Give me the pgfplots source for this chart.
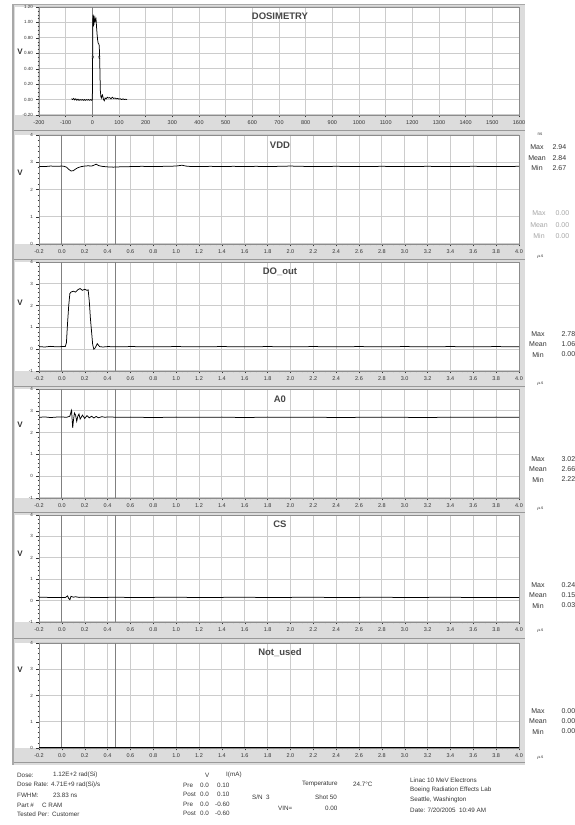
\documentclass[border=0pt]{standalone}
\usepackage{pgfplots}
\pgfplotsset{compat=1.18}
\usepackage{fontspec}
\setmainfont{Liberation Sans}
\definecolor{bandc}{HTML}{DCDCDC}
\definecolor{gridc}{HTML}{CCCCCC}
\definecolor{framec}{HTML}{A8A8A8}
\definecolor{cursorc}{HTML}{808080}
\definecolor{txt}{HTML}{333333}
\pgfplotsset{
  base/.style={scale only axis, width=480pt, anchor=south west,
    axis line style={draw=black!45, line width=0.5pt},
    xmajorgrids, ymajorgrids, major grid style={draw=gridc, line width=1pt},
    tick align=outside, tick style={black!80, line width=0.4pt},
    major tick length=2.5pt, minor tick length=1.4pt,
    xtick pos=bottom, ytick pos=left,
    /pgf/number format/assume math mode=true,
    /pgf/number format/1000 sep={},
    x tick label style={font=\fontsize{5.5}{6}\selectfont, text=txt},
    y tick label style={font=\fontsize{4.5}{5}\selectfont, text=txt},
  },
  lower/.style={base, xmin=-0.2, xmax=4.0,
    xtick={-0.2,0,0.2,0.4,0.6,0.8,1.0,1.2,1.4,1.6,1.8,2.0,2.2,2.4,2.6,2.8,3.0,3.2,3.4,3.6,3.8,4.0},
    minor x tick num=3,
    xticklabel style={/pgf/number format/.cd, fixed, fixed zerofill, precision=1},
    minor y tick num=4,
  },
  trace/.style={black, line width=0.75pt},
  cur/.style={cursorc, line width=1pt},
}
\newcommand{\ttl}[1]{\node[font=\bfseries\fontsize{9.5}{10}\selectfont, text=black!72] at (rel axis cs:0.502,0.91) {#1};}
\begin{document}
\begin{tikzpicture}[x=1pt,y=1pt]
\useasboundingbox (0,0) rectangle (575,825);
% backgrounds
\fill[bandc] (12,60) rectangle (525,821);
\foreach \b/\t in {710/818,581/690,454/563,327/436,203/310,77/182}{
  \fill[white] (15,\b) rectangle (519,\t);
}
\foreach \y in {694,565,438,312,186,62}{
  \draw[black!40, line width=1pt] (12,\y) -- (525,\y);
}
\draw[framec, line width=1.5pt] (13,60) -- (13,821);
\draw[framec, line width=1pt] (12,820.5) -- (525,820.5);

% ---------- DOSIMETRY ----------
\begin{axis}[base, at={(39pt,710pt)}, height=108pt,
  xmin=-200, xmax=1600, ymin=-0.2, ymax=1.2,
  xtick={-200,-100,...,1600}, ytick={-0.2,0,0.2,0.4,0.6,0.8,1.0,1.2},
  minor y tick num=3,
  yticklabel style={/pgf/number format/.cd, fixed, fixed zerofill, precision=2},
  xticklabel style={/pgf/number format/.cd, fixed, precision=0, 1000 sep={}}]
\addplot[cur] coordinates {(0,-0.2) (0,1.2)};
\addplot[trace] coordinates {
(-78,0.01) (-74,0.0) (-70,0.015) (-66,-0.005) (-62,0.01) (-58,-0.01) (-54,0.005) (-50,-0.01) (-46,0.0) (-42,-0.008) (-38,0.0) (-34,-0.01) (-30,0.0) (-26,-0.01) (-22,0.0) (-18,-0.008) (-14,0.0) (-10,-0.01) (-6,0.0) (-2,-0.01) (0,0.0)
(1,0.5) (2,1.05) (3,1.1) (4,0.95) (5,1.08) (6,0.97) (7,1.05) (8,1.0) (10,1.06) (12,1.02) (14,1.04) (16,0.93) (18,0.84) (20,0.77) (22,0.73) (24,0.72) (26,0.70) (28,0.45) (30,0.12) (32,0.04) (34,0.02) (36,0.05) (38,0.06) (40,0.03) (42,0.0) (45,-0.015) (48,0.02) (52,0.01) (56,0.03) (60,0.02) (65,0.025) (70,0.01) (75,0.03) (80,0.015) (85,0.02) (90,0.01) (95,0.015) (100,0.005) (105,0.01) (110,0.0) (115,0.01) (120,0.0) (125,0.005) (130,0.0)};
\addplot[only marks, mark=x, mark size=1.6pt, black!70] coordinates {(2,0.55) (26,0.55)};
\ttl{DOSIMETRY}
\end{axis}

% ---------- VDD ----------
\begin{axis}[lower, at={(39pt,581pt)}, height=109pt, ymin=0, ymax=4, ytick={0,1,2,3,4}]
\addplot[cur] coordinates {(0,0) (0,4)};
\addplot[cur] coordinates {(0.47,0) (0.47,4)};
\addplot[trace] coordinates {
(-0.2,2.85) (-0.15,2.84) (-0.1,2.86) (-0.05,2.85) (0,2.86) (0.02,2.85) (0.04,2.82) (0.06,2.74) (0.08,2.68) (0.1,2.69) (0.12,2.75) (0.14,2.80) (0.17,2.84) (0.2,2.86) (0.23,2.87) (0.26,2.86) (0.28,2.89) (0.3,2.93) (0.32,2.88) (0.35,2.85) (0.4,2.83) (0.45,2.82) (0.5,2.83) (0.6,2.84) (0.7,2.85) (0.8,2.84) (0.9,2.85) (1.0,2.86) (1.05,2.89) (1.1,2.85) (1.2,2.84) (1.3,2.85) (1.4,2.84) (1.5,2.85) (1.6,2.84) (1.7,2.85) (1.8,2.84) (1.9,2.85) (2.0,2.86) (2.2,2.84) (2.4,2.85) (2.6,2.84) (2.8,2.85) (3.0,2.84) (3.2,2.85) (3.4,2.84) (3.6,2.85) (3.8,2.84) (4.0,2.85)};
\ttl{VDD}
\end{axis}

% ---------- DO_out ----------
\begin{axis}[lower, at={(39pt,454pt)}, height=109pt, ymin=-1, ymax=4, ytick={-1,0,1,2,3,4}]
\addplot[cur] coordinates {(0,-1) (0,4)};
\addplot[cur] coordinates {(0.47,-1) (0.47,4)};
\addplot[trace] coordinates {
(-0.2,0.12) (-0.15,0.1) (-0.1,0.13) (-0.05,0.11) (0,0.12) (0.03,0.12) (0.04,0.3) (0.05,1.2) (0.06,2.0) (0.07,2.55) (0.08,2.62) (0.1,2.66) (0.12,2.62) (0.14,2.73) (0.16,2.78) (0.18,2.70) (0.2,2.75) (0.22,2.70) (0.23,2.72) (0.24,2.2) (0.25,1.4) (0.26,0.8) (0.27,0.2) (0.28,0.0) (0.29,0.05) (0.31,0.25) (0.33,0.12) (0.36,0.1) (0.4,0.12) (0.5,0.11) (0.6,0.12) (0.8,0.11) (1.0,0.12) (1.2,0.11) (1.4,0.12) (1.6,0.11) (1.8,0.12) (2.0,0.11) (2.2,0.12) (2.4,0.11) (2.6,0.12) (2.8,0.11) (3.0,0.12) (3.2,0.11) (3.4,0.12) (3.6,0.11) (3.8,0.12) (4.0,0.11)};
\ttl{DO\_out}
\end{axis}

% ---------- A0 ----------
\begin{axis}[lower, at={(39pt,327pt)}, height=109pt, ymin=-1, ymax=4, ytick={-1,0,1,2,3,4}]
\addplot[cur] coordinates {(0,-1) (0,4)};
\addplot[cur] coordinates {(0.47,-1) (0.47,4)};
\addplot[trace] coordinates {
(-0.2,2.70) (-0.15,2.72) (-0.1,2.69) (-0.05,2.71) (0,2.72) (0.04,2.70) (0.07,2.75) (0.08,2.95) (0.085,3.02) (0.09,2.6) (0.095,2.22) (0.1,2.5) (0.11,2.9) (0.12,2.8) (0.13,2.52) (0.14,2.75) (0.15,2.85) (0.16,2.62) (0.18,2.8) (0.2,2.65) (0.22,2.78) (0.24,2.68) (0.26,2.75) (0.28,2.67) (0.3,2.74) (0.32,2.68) (0.35,2.73) (0.38,2.70) (0.4,2.72) (0.5,2.70) (0.6,2.71) (0.8,2.69) (1.0,2.71) (1.2,2.70) (1.4,2.71) (1.6,2.69) (1.8,2.71) (2.0,2.70) (2.2,2.71) (2.4,2.69) (2.6,2.70) (2.8,2.71) (3.0,2.70) (3.2,2.69) (3.4,2.71) (3.6,2.70) (3.8,2.71) (4.0,2.70)};
\ttl{A0}
\end{axis}

% ---------- CS ----------
\begin{axis}[lower, at={(39pt,203pt)}, height=107pt, ymin=-1, ymax=4, ytick={-1,0,1,2,3,4}]
\addplot[cur] coordinates {(0,-1) (0,4)};
\addplot[cur] coordinates {(0.47,-1) (0.47,4)};
\addplot[trace] coordinates {
(-0.2,0.15) (-0.15,0.16) (-0.1,0.14) (-0.05,0.15) (0,0.15) (0.03,0.14) (0.05,0.22) (0.06,0.10) (0.07,0.04) (0.08,0.2) (0.1,0.16) (0.12,0.18) (0.15,0.15) (0.2,0.16) (0.3,0.14) (0.4,0.15) (0.5,0.16) (0.6,0.14) (0.8,0.15) (1.0,0.16) (1.2,0.14) (1.4,0.15) (1.6,0.16) (1.8,0.14) (2.0,0.15) (2.2,0.16) (2.4,0.14) (2.6,0.15) (2.8,0.16) (3.0,0.14) (3.2,0.15) (3.4,0.16) (3.6,0.14) (3.8,0.15) (4.0,0.15)};
\ttl{CS}
\end{axis}

% ---------- Not_used ----------
\begin{axis}[lower, at={(39pt,77pt)}, height=105pt, ymin=0, ymax=4, ytick={0,1,2,3,4}]
\addplot[cur] coordinates {(0,0) (0,4)};
\addplot[cur] coordinates {(0.47,0) (0.47,4)};
\addplot[black, line width=1.2pt] coordinates {(-0.2,0) (4.0,0)};
\ttl{Not\_used}
\end{axis}

% ---------- V labels ----------
\foreach \y in {52,173,303,425,554,670}{
  \node[font=\bfseries\fontsize{8}{8}\selectfont, text=black!80] at (20,825-\y) {V};
}
% units
\begin{scope}[font=\fontsize{4.5}{5}\selectfont, text=txt]
\node at (540,825-134) {ns};
\foreach \y in {257,384,509,631,758}{ \node at (540,825-\y) {$\mu$s}; }
\end{scope}

% ---------- stats ----------
\begin{scope}[font=\fontsize{7}{8}\selectfont, text=txt]
\node at (537,825-147) {Max}; \node[anchor=west] at (549,825-147) {2.94};
\node at (537,825-158) {Mean}; \node[anchor=west] at (549,825-158) {2.84};
\node at (537,825-168) {Min}; \node[anchor=west] at (549,825-168) {2.67};
\end{scope}
\begin{scope}[font=\fontsize{7}{8}\selectfont, text=black!35]
\node at (539,825-213) {Max}; \node[anchor=west] at (552,825-213) {0.00};
\node at (539,825-225) {Mean}; \node[anchor=west] at (552,825-225) {0.00};
\node at (539,825-236) {Min}; \node[anchor=west] at (552,825-236) {0.00};
\end{scope}
\begin{scope}[font=\fontsize{7}{8}\selectfont, text=txt]
\foreach \y/\a/\b/\c in {334/2.78/1.06/0.00, 459/3.02/2.66/2.22, 585/0.24/0.15/0.03, 711/0.00/0.00/0.00}{
  \node at (538,825-\y) {Max}; \node[anchor=west] at (558,825-\y) {\a};
  \node at (538,825-\y-10.5) {Mean}; \node[anchor=west] at (558,825-\y-10.5) {\b};
  \node at (538,825-\y-20.5) {Min}; \node[anchor=west] at (558,825-\y-20.5) {\c};
}
\end{scope}

% ---------- bottom info ----------
\begin{scope}[font=\fontsize{6.3}{7}\selectfont, text=txt, every node/.style={anchor=west, inner sep=0pt}]
\node at (17,825-775) {Dose:}; \node at (53,825-775) {1.12E+2 rad(Si)};
\node at (17,825-785) {Dose Rate: 4.71E+9 rad(Si)/s};
\node at (17,825-795) {FWHM:}; \node at (53,825-795) {23.83 ns};
\node at (17,825-805) {Part \#}; \node at (42,825-805) {C RAM};
\node at (17,825-814) {Tested Per:}; \node at (52,825-814) {Customer};
\node at (205,825-775) {V}; \node at (226,825-775) {I(mA)};
\node at (183,825-785) {Pre};  \node at (200,825-785) {0.0}; \node at (217,825-785) {0.10};
\node at (183,825-794) {Post}; \node at (200,825-794) {0.0}; \node at (217,825-794) {0.10};
\node at (183,825-804) {Pre};  \node at (200,825-804) {0.0}; \node at (215,825-804) {-0.60};
\node at (183,825-813) {Post}; \node at (200,825-813) {0.0}; \node at (215,825-813) {-0.60};
\node at (302,825-784) {Temperature}; \node at (353,825-784) {24.7°C};
\node at (252,825-797) {S/N}; \node at (266,825-797) {3}; \node at (315,825-797) {Shot 50};
\node at (278,825-808) {VIN=}; \node at (325,825-808) {0.00};
\node at (410,825-780) {Linac 10 MeV Electrons};
\node at (410,825-790) {Boeing Radiation Effects Lab};
\node at (410,825-800) {Seattle, Washington};
\node at (410,825-810) {Date: 7/20/2005\ \ 10:49 AM};
\end{scope}
\end{tikzpicture}
\end{document}
